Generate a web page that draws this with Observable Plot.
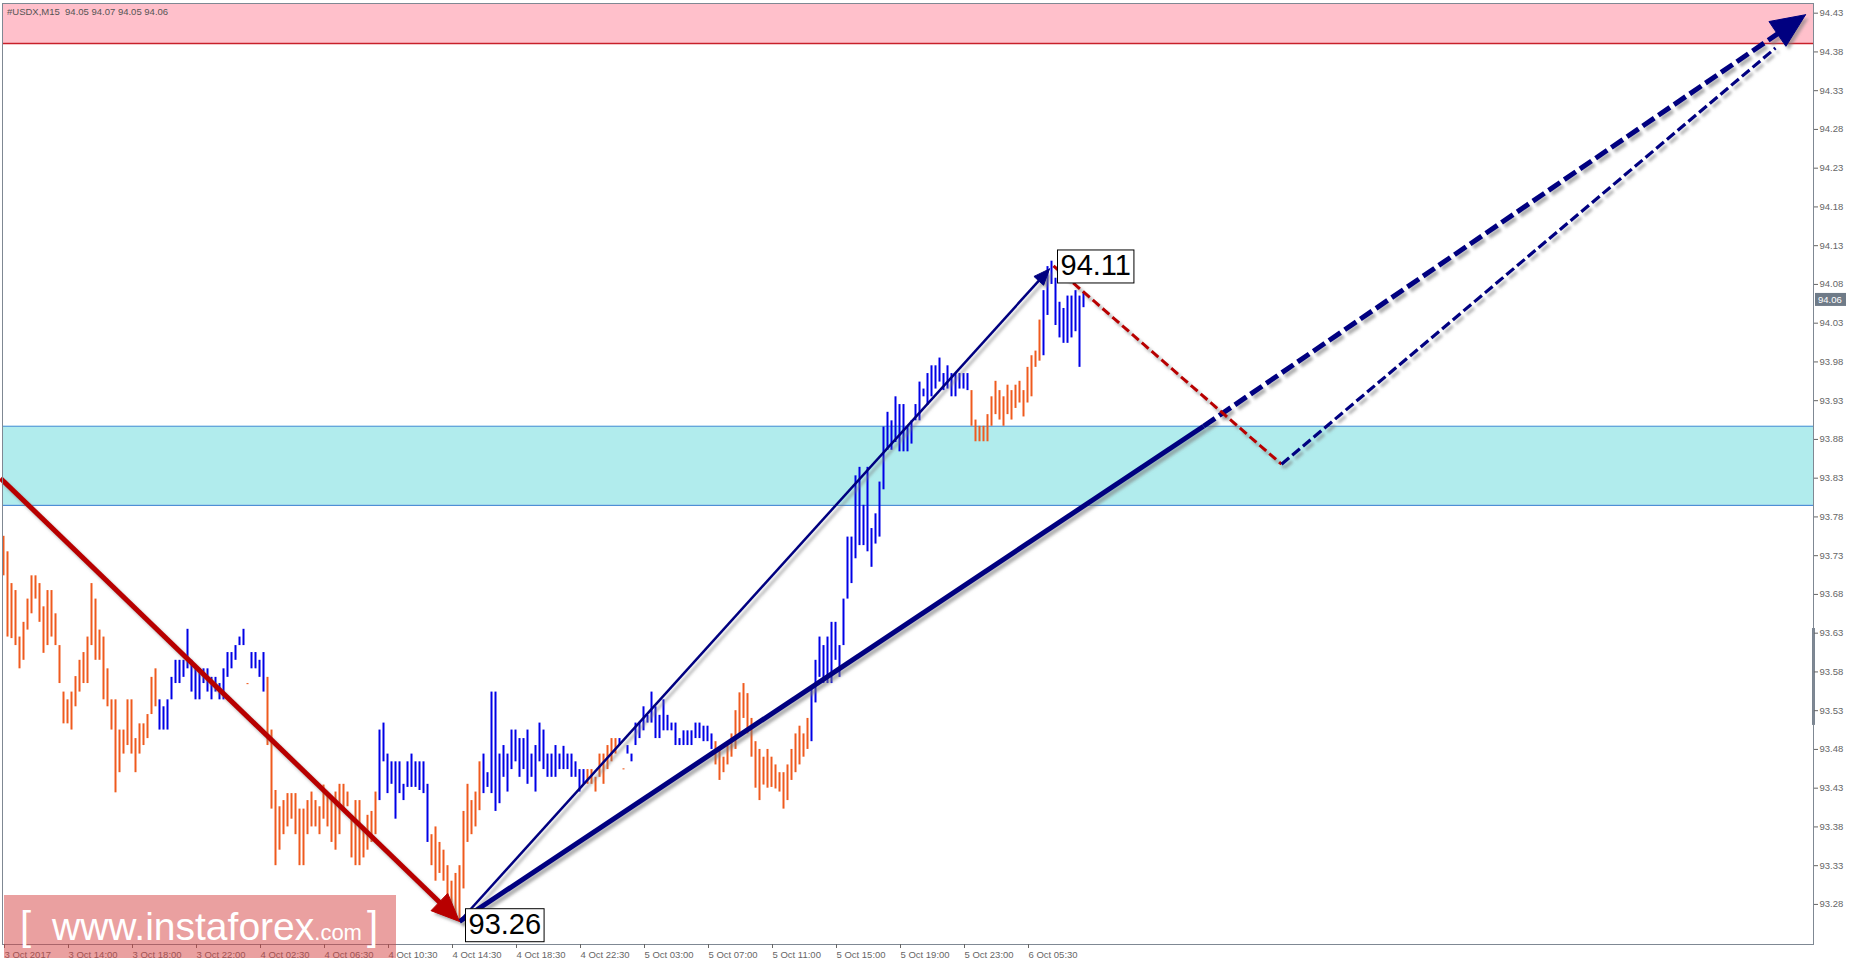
<!DOCTYPE html>
<html><head><meta charset="utf-8">
<script src="https://cdn.jsdelivr.net/npm/d3@7"></script>
<script src="https://cdn.jsdelivr.net/npm/@observablehq/plot@0.6"></script>
<style>
body{margin:0;background:#fff;}
#chart{position:relative;width:1855px;height:964px;overflow:hidden;}
</style></head><body><div id="chart"></div>
<script>
// ---------- data ----------
const highs = [
93.755,93.735,93.694,93.685,93.625,93.644,93.674,93.704,93.704,93.694,
93.664,93.685,93.685,93.655,93.614,93.554,93.544,93.554,93.574,93.595,
93.605,93.625,93.694,93.674,93.634,93.625,93.584,93.544,93.544,93.505,
93.505,93.544,93.544,93.494,93.513,93.513,93.525,93.573,93.584,93.544,
93.535,93.544,93.573,93.595,93.595,93.595,93.635,93.595,93.584,93.584,
93.584,93.584,93.573,93.573,93.565,93.584,93.605,93.605,93.614,93.625,
93.635,93.565,93.605,93.605,93.595,93.605,93.573,93.505,93.427,93.406,
93.414,93.423,93.423,93.423,93.403,93.403,93.414,93.425,93.414,93.406,
93.434,93.423,93.414,93.425,93.435,93.435,93.425,93.390,93.414,93.414,
93.380,93.395,93.400,93.425,93.505,93.514,93.474,93.464,93.464,93.464,
93.435,93.464,93.474,93.464,93.464,93.464,93.435,93.370,93.380,93.360,
93.350,93.330,93.310,93.320,93.330,93.400,93.435,93.414,93.425,93.464,
93.474,93.450,93.554,93.554,93.474,93.485,93.474,93.505,93.505,93.494,
93.494,93.505,93.474,93.485,93.514,93.505,93.474,93.474,93.485,93.474,
93.484,93.474,93.474,93.464,93.454,93.454,93.454,93.454,93.444,93.474,
93.474,93.485,93.494,93.494,93.494,93.455,93.485,93.474,93.514,93.514,
93.535,93.524,93.554,93.535,93.524,93.544,93.524,93.514,93.514,93.494,
93.504,93.504,93.504,93.514,93.514,93.510,93.510,93.500,93.490,93.480,
93.470,93.490,93.500,93.530,93.553,93.565,93.552,93.520,93.490,93.480,
93.470,93.480,93.470,93.460,93.450,93.450,93.460,93.480,93.500,93.510,
93.500,93.520,93.560,93.595,93.625,93.614,93.625,93.644,93.644,93.614,
93.674,93.754,93.754,93.833,93.844,93.795,93.844,93.765,93.784,93.825,
93.896,93.915,93.904,93.935,93.925,93.925,93.896,93.904,93.925,93.954,
93.945,93.965,93.975,93.975,93.985,93.965,93.975,93.965,93.965,93.965,
93.965,93.965,93.943,93.905,93.897,93.897,93.912,93.935,93.955,93.943,
93.935,93.950,93.943,93.950,93.955,93.943,93.973,93.988,93.994,94.034,
94.072,94.103,94.110,94.088,94.057,94.049,94.065,94.065,94.072,94.065,94.070];
const lows = [
93.704,93.625,93.623,93.614,93.584,93.595,93.634,93.655,93.674,93.644,
93.604,93.614,93.625,93.614,93.565,93.513,93.513,93.505,93.535,93.554,
93.565,93.565,93.614,93.595,93.595,93.544,93.535,93.505,93.424,93.450,
93.474,93.485,93.474,93.450,93.474,93.485,93.494,93.525,93.535,93.505,
93.505,93.505,93.544,93.565,93.565,93.573,93.584,93.554,93.544,93.544,
93.565,93.554,93.544,93.554,93.544,93.544,93.573,93.584,93.595,93.614,
93.614,93.564,93.584,93.584,93.573,93.554,93.485,93.403,93.330,93.350,
93.370,93.380,93.390,93.370,93.330,93.330,93.370,93.380,93.380,93.370,
93.390,93.380,93.360,93.350,93.370,93.400,93.406,93.340,93.330,93.330,
93.340,93.350,93.360,93.370,93.414,93.464,93.423,93.435,93.390,93.423,
93.414,93.431,93.431,93.431,93.427,93.423,93.360,93.330,93.310,93.320,
93.310,93.290,93.270,93.260,93.260,93.300,93.360,93.370,93.380,93.401,
93.423,93.431,93.423,93.400,93.410,93.444,93.425,93.454,93.464,93.444,
93.454,93.435,93.444,93.425,93.464,93.454,93.444,93.444,93.444,93.454,
93.454,93.454,93.444,93.444,93.425,93.435,93.435,93.435,93.425,93.444,
93.435,93.454,93.464,93.474,93.485,93.454,93.474,93.464,93.485,93.494,
93.504,93.514,93.514,93.494,93.494,93.504,93.504,93.504,93.485,93.485,
93.485,93.485,93.485,93.494,93.494,93.490,93.490,93.480,93.460,93.440,
93.450,93.460,93.470,93.480,93.500,93.520,93.500,93.470,93.430,93.414,
93.434,93.430,93.431,93.429,93.425,93.403,93.414,93.440,93.450,93.460,
93.470,93.480,93.490,93.540,93.573,93.565,93.565,93.565,93.595,93.573,
93.614,93.674,93.694,93.726,93.743,93.743,93.735,93.715,93.745,93.754,
93.815,93.866,93.866,93.876,93.864,93.864,93.864,93.874,93.904,93.904,
93.935,93.924,93.935,93.945,93.954,93.943,93.945,93.935,93.935,93.945,
93.945,93.943,93.897,93.877,93.877,93.877,93.877,93.897,93.912,93.905,
93.897,93.912,93.905,93.920,93.927,93.909,93.927,93.935,93.973,93.981,
93.988,94.040,94.080,94.027,94.011,94.004,94.004,94.011,94.019,93.973,94.050];
// wave colouring of the bars: runs of (direction, bar count)
const dirRuns = [["d",39],["u",22],["d",1],["u",4],["d",28],["u",13],["d",13],["u",26],
  ["d",8],["u",1],["d",1],["u",22],["d",24],["u",40],["d",18],["u",11]];

const xTickIdx = [0,16,32,48,64,80,96,112,128,144,160,176,192,208,224,240,256];
const xTickLabels = ["3 Oct 2017","3 Oct 14:00","3 Oct 18:00","3 Oct 22:00","4 Oct 02:30",
  "4 Oct 06:30","4 Oct 10:30","4 Oct 14:30","4 Oct 18:30","4 Oct 22:30","5 Oct 03:00",
  "5 Oct 07:00","5 Oct 11:00","5 Oct 15:00","5 Oct 19:00","5 Oct 23:00","6 Oct 05:30"];
const yTicks = [93.28,93.33,93.38,93.43,93.48,93.53,93.58,93.63,93.68,93.73,93.78,93.83,
  93.88,93.93,93.98,94.03,94.08,94.13,94.18,94.23,94.28,94.33,94.38,94.43];

const resistanceZone = [94.391, 94.4425];
const supportZone = [93.795, 93.897];
const lastPrice = 94.06;
const scrollMarker = [93.511, 93.636];
const header = "#USDX,M15  94.05 94.07 94.05 94.06";

// wave lines (bar index, price)
const waveDown = [{i:-0.75, v:93.830},{i:114, v:93.258}];
const waveUpThin = [{i:114, v:93.258},{i:261.5, v:94.100}];
const waveUpSolid = [{i:114, v:93.258},{i:300, v:93.897}];
const waveUpDash = [{i:300, v:93.897},{i:450.5, v:94.428}];
const fcRed = [{i:262.5, v:94.104},{i:319.5, v:93.848}];
const fcBlue = [{i:319.5, v:93.848},{i:443, v:94.385}];
const priceLabels = [{i:262, v:94.11, t:"94.11"},{i:114, v:93.26, t:"93.26"}];

// ---------- layout ----------
const W = 1855, H = 964, mL = 2, mR = 42, mT = 3, mB = 20;
const xDomain = [-0.25, 452.5];
const yDomain = [93.2283, 94.4425];
const kx = (W - mL - mR) / (xDomain[1] - xDomain[0]);
const ky = (H - mT - mB) / (yDomain[1] - yDomain[0]);
const ORANGE = "#ef5a1e", BLUE = "#0000e6", NAVY = "#000080", RED = "#b80000";
const SHADOW = "#7a7a7b", LABEL_INK = "#010101";
const FONT = "'Liberation Sans', Arial, sans-serif";

const dirs = dirRuns.flatMap(([d, n]) => Array(n).fill(d));
const bars = highs.map((h, k) => ({i: k, high: h, low: Math.min(lows[k], h - 0.0014), dir: dirs[k]}));

function head(p0, p1, L, Wd, id) {
  const sx = (p1.i - p0.i) * kx, sy = -(p1.v - p0.v) * ky;
  const len = Math.hypot(sx, sy), ux = sx / len, uy = sy / len;
  const bx = -ux * L, by = -uy * L, nx = -uy, ny = ux;
  return [[0,0],[bx + nx*Wd, by + ny*Wd],[bx - nx*Wd, by - ny*Wd],[0,0]]
    .map(([dx, dy]) => ({id, i: p1.i + dx / kx, v: p1.v - dy / ky}));
}
function trim(p0, p1, px) {
  const sx = (p1.i - p0.i) * kx, sy = (p1.v - p0.v) * ky, len = Math.hypot(sx, sy), f = (len - px) / len;
  return [p0, {i: p0.i + (p1.i - p0.i) * f, v: p0.v + (p1.v - p0.v) * f}];
}
const heads = [
  ...head(waveDown[0], waveDown[1], 28, 12, "r").map(d => ({...d, c: RED})),
  ...head(waveUpThin[0], waveUpThin[1], 16, 6.5, "n1").map(d => ({...d, c: NAVY})),
  ...head(waveUpDash[0], waveUpDash[1], 34, 15, "n2").map(d => ({...d, c: NAVY}))
];
const lines = [
  {pts: trim(waveDown[0], waveDown[1], 18), c: RED, w: 5, dash: "none"},
  {pts: trim(waveUpThin[0], waveUpThin[1], 10), c: NAVY, w: 2.5, dash: "none"},
  {pts: waveUpSolid, c: NAVY, w: 5, dash: "none"},
  {pts: trim(waveUpDash[0], waveUpDash[1], 22), c: NAVY, w: 5, dash: "14,5"},
  {pts: fcRed, c: RED, w: 3, dash: "9,4"},
  {pts: fcBlue, c: NAVY, w: 3.2, dash: "10,4"}
];

const lineMarks = (shadow) => lines.map(L => Plot.line(L.pts, {
  x: "i", y: "v", stroke: shadow ? SHADOW : L.c, strokeOpacity: shadow ? 0.6 : 1,
  strokeWidth: L.w, strokeDasharray: L.dash, strokeLinecap: "butt",
  dx: shadow ? 3 : 0, dy: shadow ? 3.5 : 0
}));

const chart = Plot.plot({
  width: W, height: H, marginLeft: mL, marginRight: mR, marginTop: mT, marginBottom: mB,
  x: {domain: xDomain, axis: null},
  y: {domain: yDomain, axis: null},
  style: {fontFamily: FONT, fontSize: "9.5px", background: "#fff", overflow: "visible"},
  marks: [
    Plot.rect([resistanceZone], {x1: () => xDomain[0], x2: () => xDomain[1], y1: d => d[0], y2: d => d[1], fill: "#ffc0cb"}),
    Plot.rect([supportZone], {x1: () => xDomain[0], x2: () => xDomain[1], y1: d => d[0], y2: d => d[1], fill: "#b1eced"}),
    Plot.ruleY([resistanceZone[0]], {stroke: "#c8202a", strokeWidth: 1.5}),
    Plot.ruleY(supportZone, {stroke: "#4d8fd6", strokeWidth: 1.2}),
    Plot.ruleX(bars, {x: "i", y1: "low", y2: "high", stroke: d => d.dir === "u" ? BLUE : ORANGE, strokeWidth: 2}),
    ...lineMarks(true),
    Plot.line(heads, {x: "i", y: "v", z: "id", fill: SHADOW, fillOpacity: 0.6, stroke: "none", dx: 3, dy: 3.5}),
    ...lineMarks(false),
    Plot.line(heads, {x: "i", y: "v", z: "id", fill: d => d.c, stroke: d => d.c, strokeWidth: 1}),
    Plot.text(priceLabels, {x: "i", y: "v", text: "t", textAnchor: "start", dx: 9, dy: 4.5,
      fontSize: 29, fill: LABEL_INK}),
    Plot.ruleX([xDomain[1]], {y1: () => scrollMarker[0], y2: () => scrollMarker[1], stroke: "#7a8591", strokeWidth: 3}),
    Plot.frame({stroke: "#7f8893"}),
    Plot.axisY(yTicks, {anchor: "right", label: null, tickSize: 4, tickPadding: 2, tickFormat: d => d.toFixed(2), color: "#666"}),
    Plot.axisX(xTickIdx, {anchor: "bottom", label: null, tickSize: 4, tickPadding: 3, textAnchor: "start", dx: 1,
      tickFormat: d => xTickLabels[xTickIdx.indexOf(d)], color: "#666"})
  ]
});
document.getElementById("chart").append(chart);

// ---------- decorations ----------
const svg = d3.select(chart);
const NS = "http://www.w3.org/2000/svg";
try {
  const f = svg.insert("defs", ":first-child").append("filter").attr("id", "sh")
    .attr("x", "-20%").attr("y", "-20%").attr("width", "140%").attr("height", "140%");
  f.append("feGaussianBlur").attr("stdDeviation", 1.6);
  svg.selectAll(`g[stroke="${SHADOW}"], g[fill="${SHADOW}"]`).attr("filter", "url(#sh)");
} catch (e) { console.log(e); }

// boxes behind price labels
try {
  const sr = chart.getBoundingClientRect();
  const lg = chart.querySelector(`g[fill="${LABEL_INK}"]`);
  lg.querySelectorAll("text").forEach(t => {
    const r = t.getBoundingClientRect();
    const rect = document.createElementNS(NS, "rect");
    rect.setAttribute("x", r.left - sr.left - 3);
    rect.setAttribute("y", r.top - sr.top + 1);
    rect.setAttribute("width", r.width + 6);
    rect.setAttribute("height", r.height + 1);
    rect.setAttribute("fill", "#fff");
    rect.setAttribute("stroke", "#000");
    rect.setAttribute("stroke-width", 1);
    lg.parentNode.insertBefore(rect, lg);
  });
} catch (e) { console.log(e); }

// header text
svg.append("text").attr("x", 7).attr("y", 15).attr("fill", "#555").attr("font-size", 9.5)
  .attr("text-anchor", "start").attr("font-family", FONT)
  .style("white-space", "pre").text(header);

// last price tag on axis
const yp = chart.scale("y").apply(lastPrice);
svg.append("rect").attr("x", 1815).attr("y", yp - 6.5).attr("width", 31).attr("height", 13).attr("fill", "#6f7b88");
svg.append("text").attr("x", 1818).attr("y", yp + 3.5).attr("fill", "#fff").attr("font-size", 9.5)
  .attr("text-anchor", "start").attr("font-family", FONT).text(lastPrice.toFixed(2));

// watermark
const wm = svg.append("g");
wm.append("rect").attr("x", 4).attr("y", 895).attr("width", 392).attr("height", 63)
  .attr("fill", "rgb(214,66,66)").attr("fill-opacity", 0.5);
const wt = wm.append("text").attr("y", 940).attr("fill", "#fff").attr("text-anchor", "start")
  .attr("font-family", FONT);
wt.append("tspan").attr("x", 20).attr("font-size", 40).text("[");
wt.append("tspan").attr("x", 52).attr("font-size", 39).text("www.instaforex");
wt.append("tspan").attr("font-size", 22).text(".com");
wt.append("tspan").attr("dx", 5).attr("font-size", 40).text("]");
</script></body></html>
